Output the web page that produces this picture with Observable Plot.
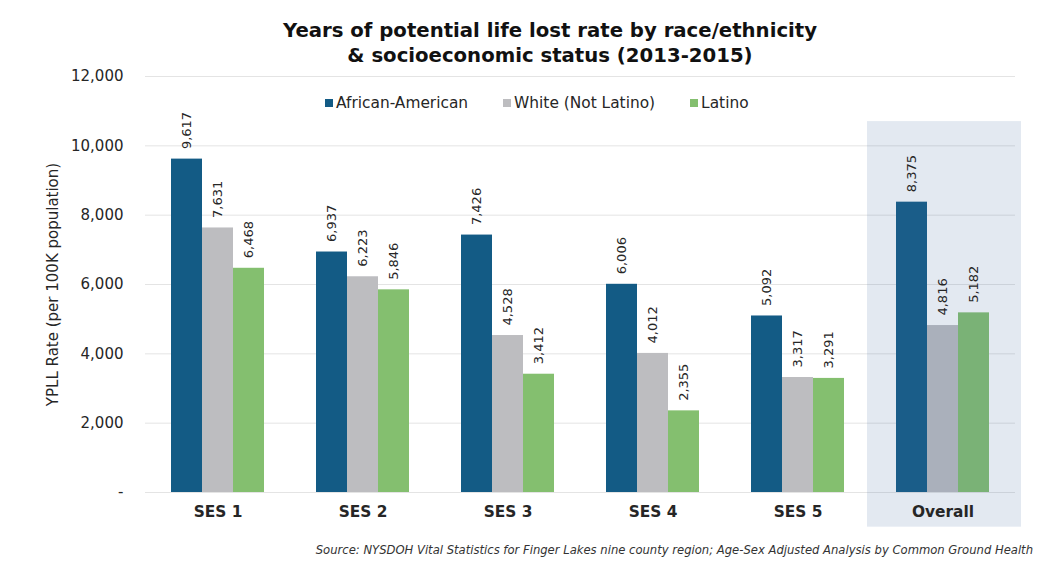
<!DOCTYPE html>
<html>
<head>
<meta charset="utf-8">
<script src="https://cdn.jsdelivr.net/npm/d3@7"></script>
<script src="https://cdn.jsdelivr.net/npm/@observablehq/plot@0.6"></script>
<style>
  html, body { margin: 0; padding: 0; background: #fff; }
  body { width: 1046px; height: 575px; position: relative; font-family: "DejaVu Sans", Verdana, sans-serif; color: #262626; }
  #title { padding-top: 18px; padding-left: 54px; height: 50px; text-align: center; font-weight: bold; font-size: 19.7px; line-height: 25px; color: #111; }
  #legend { position: absolute; left: 325px; top: 94px; display: flex; align-items: center; font-size: 15.4px; color: #262626; }
  .item { display: flex; align-items: center; margin-right: 35px; }
  .sw { width: 8px; height: 8px; margin-right: 3px; }
  #caption { position: absolute; right: 13px; top: 543px; font-size: 11.6px; font-style: italic; color: #333; }
</style>
</head>
<body>
<div id="title">Years of potential life lost rate by race/ethnicity<br>&amp; socioeconomic status (2013-2015)</div>
<div id="chart"></div>
<div id="legend"></div>
<div id="caption">Source: NYSDOH Vital Statistics for Finger Lakes nine county region; Age-Sex Adjusted Analysis by Common Ground Health</div>
<script>
const groups = ["SES 1", "SES 2", "SES 3", "SES 4", "SES 5", "Overall"];
const series = ["African-American", "White (Not Latino)", "Latino"];
const africanAmerican = [9617, 6937, 7426, 6006, 5092, 8375];
const whiteNotLatino = [7631, 6223, 4528, 4012, 3317, 4816];
const latino = [6468, 5846, 3412, 2355, 3291, 5182];
const colors = ["#135b85", "#bdbdc0", "#84bf6f"];
const yTicks = [0, 2000, 4000, 6000, 8000, 10000, 12000];
const shadedGroup = ["Overall"];

const valuesBySeries = [africanAmerican, whiteNotLatino, latino];
const data = [];
groups.forEach((g, i) => series.forEach((s, j) => data.push({group: g, series: s, value: valuesBySeries[j][i]})));
const fmt = d3.format(",");

const plot = Plot.plot({
  width: 1046,
  height: 464,
  marginTop: 8,
  marginLeft: 145,
  marginRight: 31,
  marginBottom: 40,
  style: {fontFamily: "DejaVu Sans, Verdana, sans-serif", fontSize: "15px", color: "#262626", background: "transparent"},
  fx: {domain: groups, paddingInner: 0, paddingOuter: 0, label: null, axis: null},
  x: {domain: series, paddingInner: 0, paddingOuter: 0.766, axis: null},
  y: {domain: [0, 12000]},
  color: {domain: series, range: colors},
  marks: [
    Plot.gridY(yTicks, {stroke: "#e4e4e4", strokeOpacity: 1, strokeWidth: 1}),
    Plot.barY(data, {fx: "group", x: "series", y: "value", fill: "series"}),
    Plot.rect(shadedGroup.map(g => ({group: g})), {fx: "group", y1: () => -1000, y2: () => 10700, fill: "rgb(70,110,160)", fillOpacity: 0.15, insetLeft: -3, insetRight: -6}),
    Plot.text(data, {fx: "group", x: "series", y: "value", text: d => fmt(d.value), rotate: -90, textAnchor: "start", dy: -10, fontSize: 13, fill: "#262626"}),
    Plot.axisY(yTicks, {tickSize: 0, tickPadding: 22, tickFormat: d => d === 0 ? "-" : fmt(d), fontSize: 15, label: "YPLL Rate (per 100K population)", labelAnchor: "center", labelOffset: 98, labelArrow: "none"}),
    Plot.axisFx({anchor: "bottom", tickSize: 0, tickPadding: 14, fontWeight: "bold", fontSize: 15.4, label: null})
  ]
});
document.getElementById("chart").appendChild(plot);

const legend = document.getElementById("legend");
series.forEach((s, i) => {
  const item = document.createElement("div");
  item.className = "item";
  const sw = document.createElement("div");
  sw.className = "sw";
  sw.style.background = colors[i];
  const t = document.createElement("span");
  t.textContent = s;
  item.appendChild(sw);
  item.appendChild(t);
  legend.appendChild(item);
});
</script>
</body>
</html>
